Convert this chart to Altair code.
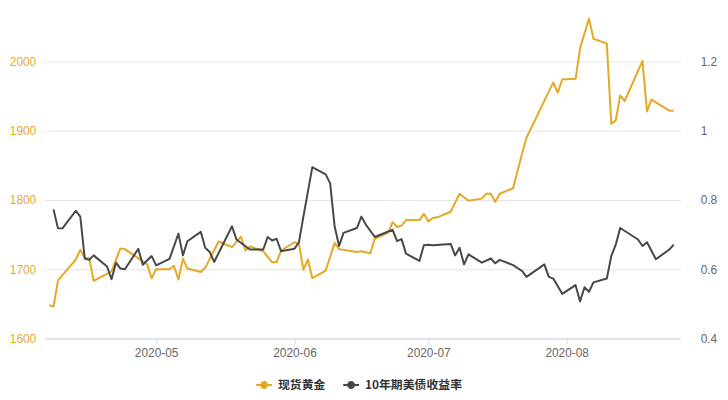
import altair as alt
import pandas as pd

GOLD_NAME = "现货黄金"
YIELD_NAME = "10年期美债收益率"
GOLD_COLOR = "#e5a823"
DARK_COLOR = "#474747"

gold_dates = [
    "2020-04-07", "2020-04-08", "2020-04-09", "2020-04-13", "2020-04-14", "2020-04-15",
    "2020-04-16", "2020-04-17", "2020-04-21", "2020-04-23", "2020-04-24", "2020-04-29",
    "2020-04-30", "2020-05-01", "2020-05-04", "2020-05-05", "2020-05-06", "2020-05-07",
    "2020-05-08", "2020-05-11", "2020-05-12", "2020-05-15", "2020-05-18", "2020-05-20",
    "2020-05-21", "2020-05-22", "2020-05-25", "2020-05-27", "2020-05-28", "2020-05-29",
    "2020-06-01", "2020-06-02", "2020-06-03", "2020-06-04", "2020-06-05", "2020-06-08",
    "2020-06-10", "2020-06-11", "2020-06-15", "2020-06-16", "2020-06-18", "2020-06-19",
    "2020-06-22", "2020-06-23", "2020-06-24", "2020-06-25", "2020-06-26", "2020-06-29",
    "2020-06-30", "2020-07-01", "2020-07-02", "2020-07-03", "2020-07-06", "2020-07-08",
    "2020-07-10", "2020-07-13", "2020-07-14", "2020-07-15", "2020-07-16", "2020-07-17",
    "2020-07-20", "2020-07-22", "2020-07-23", "2020-07-29", "2020-07-30", "2020-07-31",
    "2020-08-03", "2020-08-04", "2020-08-06", "2020-08-07", "2020-08-10", "2020-08-11",
    "2020-08-12", "2020-08-13", "2020-08-14", "2020-08-18", "2020-08-19", "2020-08-20",
    "2020-08-24", "2020-08-25",
]
gold_values = [
    1648, 1646, 1684, 1714, 1728, 1716,
    1716, 1683, 1697, 1730, 1729, 1707,
    1687, 1700, 1700, 1705, 1685, 1715,
    1701, 1696, 1702, 1740, 1732, 1747,
    1727, 1733, 1726, 1710, 1710, 1727,
    1739, 1737, 1699, 1714, 1687, 1698,
    1738, 1729, 1725, 1726, 1723, 1744,
    1753, 1768, 1761, 1763, 1771, 1771,
    1780, 1769, 1774, 1775, 1783, 1809,
    1799, 1802, 1809, 1809, 1797, 1809,
    1817, 1867, 1890, 1970, 1955, 1974,
    1975, 2019, 2062, 2033, 2026, 1910,
    1915, 1951, 1943, 2001, 1928, 1945,
    1929, 1929,
]

yield_dates = [
    "2020-04-08", "2020-04-09", "2020-04-10", "2020-04-13", "2020-04-14", "2020-04-15",
    "2020-04-16", "2020-04-17", "2020-04-20", "2020-04-21", "2020-04-22", "2020-04-23",
    "2020-04-24", "2020-04-27", "2020-04-28", "2020-04-30", "2020-05-01", "2020-05-04",
    "2020-05-06", "2020-05-07", "2020-05-08", "2020-05-11", "2020-05-12", "2020-05-13",
    "2020-05-14", "2020-05-18", "2020-05-19", "2020-05-22", "2020-05-25", "2020-05-26",
    "2020-05-27", "2020-05-28", "2020-05-29", "2020-06-01", "2020-06-02", "2020-06-03",
    "2020-06-05", "2020-06-08", "2020-06-09", "2020-06-10", "2020-06-11", "2020-06-12",
    "2020-06-15", "2020-06-16", "2020-06-17", "2020-06-19", "2020-06-23", "2020-06-24",
    "2020-06-25", "2020-06-26", "2020-06-29", "2020-06-30", "2020-07-01", "2020-07-02",
    "2020-07-06", "2020-07-07", "2020-07-08", "2020-07-09", "2020-07-10", "2020-07-13",
    "2020-07-15", "2020-07-16", "2020-07-17", "2020-07-20", "2020-07-22", "2020-07-23",
    "2020-07-27", "2020-07-28", "2020-07-29", "2020-07-31", "2020-08-03", "2020-08-04",
    "2020-08-05", "2020-08-06", "2020-08-07", "2020-08-10", "2020-08-11", "2020-08-12",
    "2020-08-13", "2020-08-17", "2020-08-18", "2020-08-19", "2020-08-21", "2020-08-24",
    "2020-08-25",
]
yield_values = [
    0.773, 0.718, 0.718, 0.769, 0.752, 0.631,
    0.627, 0.640, 0.608, 0.571, 0.619, 0.602,
    0.600, 0.659, 0.613, 0.638, 0.611, 0.630,
    0.703, 0.640, 0.681, 0.708, 0.662, 0.650,
    0.621, 0.724, 0.686, 0.657, 0.657, 0.693,
    0.683, 0.688, 0.652, 0.659, 0.678, 0.752,
    0.895, 0.874, 0.848, 0.724, 0.667, 0.705,
    0.719, 0.752, 0.729, 0.693, 0.714, 0.681,
    0.687, 0.645, 0.624, 0.669, 0.671, 0.669,
    0.673, 0.640, 0.662, 0.614, 0.643, 0.619,
    0.631, 0.617, 0.627, 0.612, 0.595, 0.578,
    0.614, 0.578, 0.573, 0.529, 0.554, 0.507,
    0.548, 0.535, 0.562, 0.573, 0.638, 0.671,
    0.719, 0.686, 0.667, 0.678, 0.629, 0.657,
    0.671,
]

series_names = [GOLD_NAME, YIELD_NAME]
left_ticks = [1600, 1700, 1800, 1900, 2000]
right_ticks = [0.4, 0.6, 0.8, 1.0, 1.2]
month_ticks = [5, 6, 7, 8]

df_gold = pd.DataFrame({"date": gold_dates, "value": gold_values, "series": GOLD_NAME})
df_yield = pd.DataFrame({"date": yield_dates, "value": yield_values, "series": YIELD_NAME})
df_legend = pd.DataFrame({"series": series_names})

color_scale = alt.Scale(domain=series_names, range=[GOLD_COLOR, DARK_COLOR])

x_enc = alt.X(
    "date:T",
    scale=alt.Scale(
        type="utc",
        domain=[
            alt.DateTime(year=2020, month=4, date=6, utc=True),
            alt.DateTime(year=2020, month=8, date=26, hours=12, utc=True),
        ],
    ),
    axis=alt.Axis(
        values=[alt.DateTime(year=2020, month=m, date=1, utc=True) for m in month_ticks],
        format="%Y-%m",
        title=None,
        grid=False,
        domainColor="#ccd6eb",
        tickColor="#ccd6eb",
        tickSize=5,
        labelPadding=4,
        labelColor="#666666",
        labelFontSize=12,
        labelFont="Liberation Sans",
    ),
)

legend_symbol = (
    "M-1,-0.125H1V0.125H-1Z"
    "M0.5,0A0.5,0.5,0,1,1,-0.5,0A0.5,0.5,0,1,1,0.5,0Z"
)

# invisible layer that only carries the legend (filled line+dot symbols)
legend_layer = alt.Chart(df_legend).mark_point(filled=True, opacity=0).encode(
    fill=alt.Fill(
        "series:N",
        scale=color_scale,
        legend=alt.Legend(
            title=None,
            orient="none",
            direction="horizontal",
            legendX=214,
            legendY=369,
            padding=0,
            symbolType=legend_symbol,
            symbolSize=256,
            symbolOpacity=1,
            symbolStrokeWidth=0,
            labelFont="Noto Sans CJK SC",
            labelFontSize=12,
            labelFontWeight="bold",
            labelColor="#333333",
            labelOffset=6,
            columnPadding=17,
        ),
    )
)

gold_line = alt.Chart(df_gold).mark_line(strokeWidth=2, strokeJoin="round").encode(
    x=x_enc,
    y=alt.Y(
        "value:Q",
        scale=alt.Scale(domain=[1600, 2071.43], nice=False, zero=False),
        axis=alt.Axis(
            orient="left",
            values=left_ticks,
            format="d",
            title=None,
            grid=True,
            gridColor="#e6e6e6",
            domain=False,
            ticks=False,
            tickSize=0,
            labelPadding=9,
            labelColor=GOLD_COLOR,
            labelFontSize=12,
            labelFont="Liberation Sans",
        ),
    ),
    color=alt.Color("series:N", scale=color_scale, legend=None),
)

yield_line = alt.Chart(df_yield).mark_line(strokeWidth=2, strokeJoin="round").encode(
    x=x_enc,
    y=alt.Y(
        "value:Q",
        scale=alt.Scale(domain=[0.4, 1.3429], nice=False, zero=False),
        axis=alt.Axis(
            orient="right",
            values=right_ticks,
            format=".1~f",
            title=None,
            grid=False,
            domain=False,
            ticks=False,
            tickSize=0,
            labelPadding=20,
            labelColor="#666666",
            labelFontSize=12,
            labelFont="Liberation Sans",
        ),
    ),
    color=alt.Color("series:N", scale=color_scale, legend=None),
)

chart = (
    alt.layer(legend_layer, gold_line, yield_line)
    .resolve_scale(y="independent")
    .properties(
        width=643,
        height=330,
        autosize=alt.AutoSizeParams(type="none"),
        padding={"left": 37, "top": 2, "right": 40, "bottom": 52},
        background="white",
    )
    .configure_view(stroke=None)
    .configure_axisRight(labelColor="#666666")
)

chart.save("out.html", embed_options={"renderer": "svg", "actions": False})
